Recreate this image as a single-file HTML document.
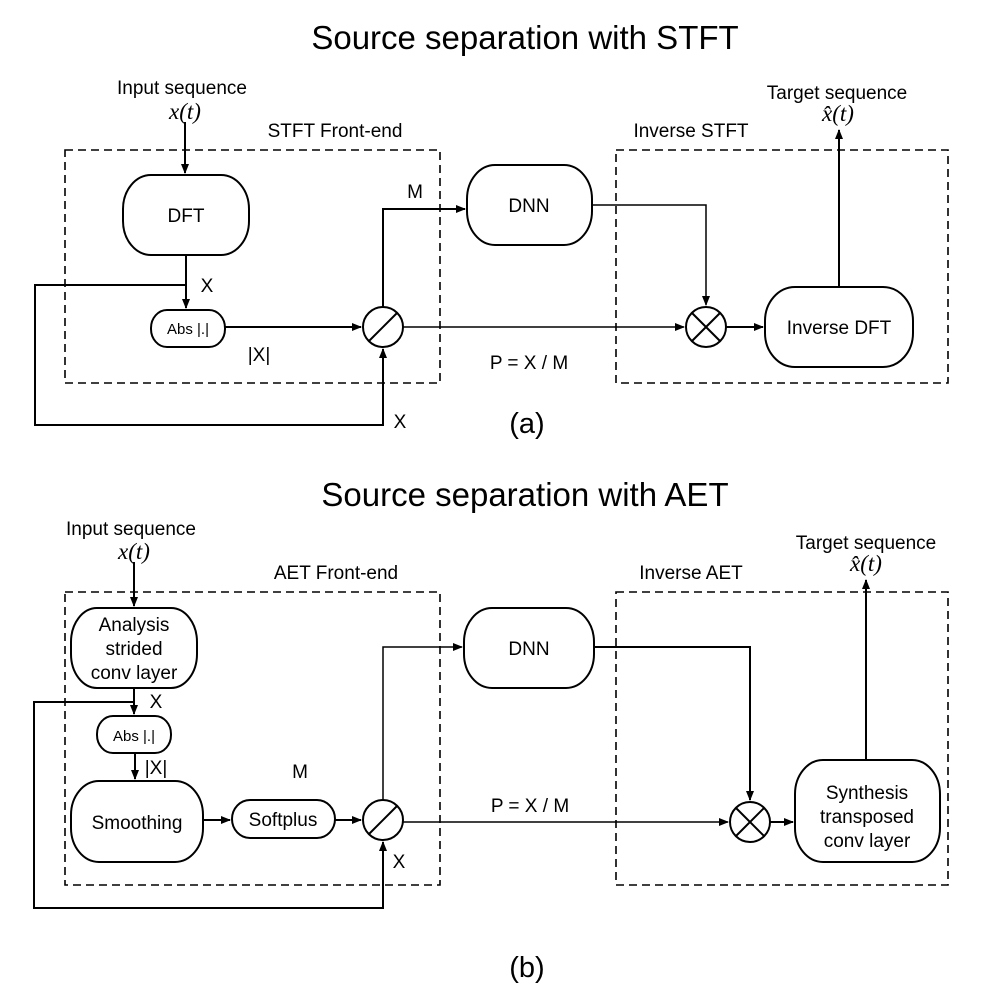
<!DOCTYPE html>
<html><head><meta charset="utf-8"><style>
html,body{margin:0;padding:0;background:#fff}
svg{display:block}
text{font-family:"Liberation Sans",sans-serif;fill:#000}
.m{font-family:"Liberation Serif",serif;font-style:italic}
</style></head><body>
<svg width="994" height="998" viewBox="0 0 994 998" xmlns="http://www.w3.org/2000/svg">
<defs><marker id="a" markerWidth="10" markerHeight="8" refX="9" refY="4" orient="auto" markerUnits="userSpaceOnUse"><path d="M0,0 L10,4 L0,8 z" fill="#000"/></marker></defs>
<g fill="none" stroke="#000" stroke-width="2">
<rect x="65" y="150" width="375" height="233" stroke-dasharray="8,5" stroke-width="1.6"/>
<rect x="616" y="150" width="332" height="233" stroke-dasharray="8,5" stroke-width="1.6"/>
<rect x="123" y="175" width="126" height="80" rx="28" ry="34"/>
<rect x="151" y="310" width="74" height="37" rx="16" ry="18"/>
<rect x="467" y="165" width="125" height="80" rx="28" ry="34"/>
<rect x="765" y="287" width="148" height="80" rx="30" ry="34"/>
<circle cx="383" cy="327" r="20"/><line x1="369" y1="341" x2="397" y2="313"/>
<circle cx="706" cy="327" r="20"/><line x1="692" y1="313" x2="720" y2="341"/><line x1="692" y1="341" x2="720" y2="313"/>
<line x1="185" y1="122" x2="185" y2="173" marker-end="url(#a)"/>
<line x1="186" y1="255" x2="186" y2="308" marker-end="url(#a)"/>
<polyline points="185,285 35,285 35,425 383,425 383,349" marker-end="url(#a)"/>
<line x1="225" y1="327" x2="361" y2="327" marker-end="url(#a)"/>
<polyline points="383,307 383,209 465,209" marker-end="url(#a)"/>
<line x1="403" y1="327" x2="684" y2="327" marker-end="url(#a)" stroke-width="1.5"/>
<polyline points="592,205 706,205 706,305" marker-end="url(#a)" stroke-width="1.5"/>
<line x1="726" y1="327" x2="763" y2="327" marker-end="url(#a)"/>
<line x1="839" y1="287" x2="839" y2="130" marker-end="url(#a)"/>
<rect x="65" y="592" width="375" height="293" stroke-dasharray="8,5" stroke-width="1.6"/>
<rect x="616" y="592" width="332" height="293" stroke-dasharray="8,5" stroke-width="1.6"/>
<rect x="71" y="608" width="126" height="80" rx="26" ry="34"/>
<rect x="97" y="716" width="74" height="37" rx="16" ry="18"/>
<rect x="71" y="781" width="132" height="81" rx="28" ry="34"/>
<rect x="232" y="800" width="103" height="38" rx="18" ry="19"/>
<rect x="464" y="608" width="130" height="80" rx="28" ry="34"/>
<rect x="795" y="760" width="145" height="102" rx="28" ry="34"/>
<circle cx="383" cy="820" r="20"/><line x1="369" y1="834" x2="397" y2="806"/>
<circle cx="750" cy="822" r="20"/><line x1="736" y1="808" x2="764" y2="836"/><line x1="736" y1="836" x2="764" y2="808"/>
<line x1="134" y1="562" x2="134" y2="606" marker-end="url(#a)"/>
<line x1="134" y1="688" x2="134" y2="714" marker-end="url(#a)"/>
<polyline points="134,702 34,702 34,908 383,908 383,842" marker-end="url(#a)"/>
<line x1="135" y1="753" x2="135" y2="779" marker-end="url(#a)"/>
<line x1="203" y1="820" x2="230" y2="820" marker-end="url(#a)"/>
<line x1="335" y1="820" x2="361" y2="820" marker-end="url(#a)"/>
<polyline points="383,800 383,647 462,647" marker-end="url(#a)" stroke-width="1.5"/>
<line x1="403" y1="822" x2="728" y2="822" marker-end="url(#a)" stroke-width="1.5"/>
<polyline points="594,647 750,647 750,800" marker-end="url(#a)"/>
<line x1="770" y1="822" x2="793" y2="822" marker-end="url(#a)"/>
<line x1="866" y1="760" x2="866" y2="580" marker-end="url(#a)"/>
</g>
<g text-anchor="middle">
<text x="525" y="49" font-size="33">Source separation with STFT</text>
<text x="182" y="94" font-size="19">Input sequence</text>
<text x="185" y="119" font-size="23" class="m">x(t)</text>
<text x="335" y="137" font-size="19">STFT Front-end</text>
<text x="186" y="222" font-size="19">DFT</text>
<text x="207" y="292" font-size="19">X</text>
<text x="188" y="334" font-size="15">Abs |.|</text>
<text x="259" y="361" font-size="19">|X|</text>
<text x="415" y="198" font-size="19">M</text>
<text x="529" y="212" font-size="19">DNN</text>
<text x="529" y="369" font-size="19">P = X / M</text>
<text x="400" y="428" font-size="19">X</text>
<text x="691" y="137" font-size="19">Inverse STFT</text>
<text x="837" y="99" font-size="19">Target sequence</text>
<text x="838" y="121" font-size="23" class="m">x̂(t)</text>
<text x="839" y="334" font-size="19">Inverse DFT</text>
<text x="527" y="433" font-size="29">(a)</text>
<text x="525" y="506" font-size="33">Source separation with AET</text>
<text x="131" y="535" font-size="19">Input sequence</text>
<text x="134" y="559" font-size="23" class="m">x(t)</text>
<text x="336" y="579" font-size="19">AET Front-end</text>
<text x="134" y="631" font-size="19">Analysis</text>
<text x="134" y="655" font-size="19">strided</text>
<text x="134" y="679" font-size="19">conv layer</text>
<text x="156" y="708" font-size="19">X</text>
<text x="134" y="741" font-size="15">Abs |.|</text>
<text x="156" y="774" font-size="19">|X|</text>
<text x="137" y="829" font-size="19">Smoothing</text>
<text x="283" y="826" font-size="19">Softplus</text>
<text x="300" y="778" font-size="19">M</text>
<text x="399" y="868" font-size="19">X</text>
<text x="529" y="655" font-size="19">DNN</text>
<text x="530" y="812" font-size="19">P = X / M</text>
<text x="691" y="579" font-size="19">Inverse AET</text>
<text x="866" y="549" font-size="19">Target sequence</text>
<text x="866" y="571" font-size="23" class="m">x̂(t)</text>
<text x="867" y="799" font-size="19">Synthesis</text>
<text x="867" y="823" font-size="19">transposed</text>
<text x="867" y="847" font-size="19">conv layer</text>
<text x="527" y="977" font-size="29">(b)</text>
</g>
</svg>
</body></html>
